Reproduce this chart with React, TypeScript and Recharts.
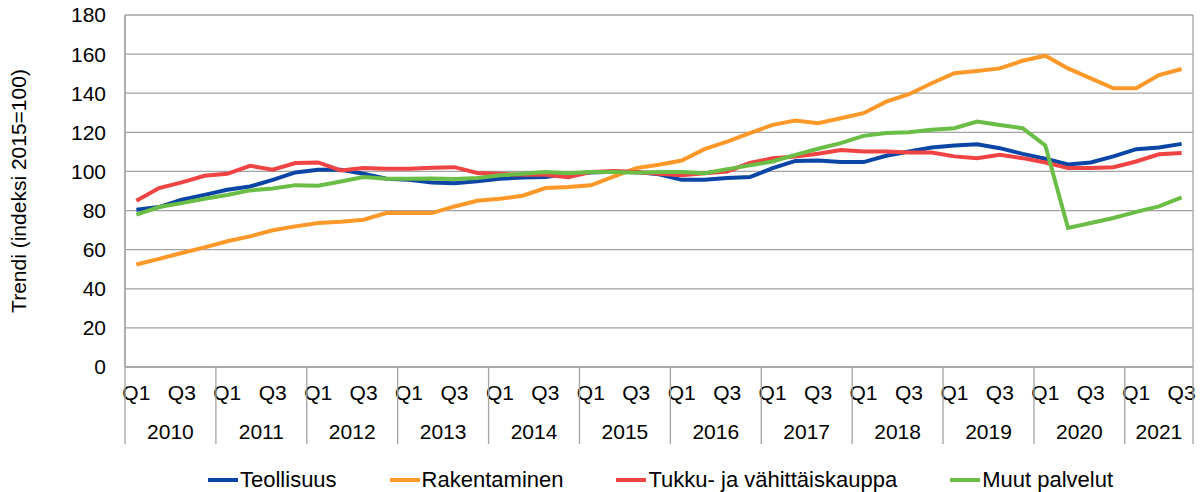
import React from "react";
import { LineChart, Line, XAxis, YAxis, CartesianGrid, Legend } from "recharts";

const years = [2010, 2011, 2012, 2013, 2014, 2015, 2016, 2017, 2018, 2019, 2020, 2021];
const quartersPerYear = [4, 4, 4, 4, 4, 4, 4, 4, 4, 4, 4, 3];
const yTicks = [0, 20, 40, 60, 80, 100, 120, 140, 160, 180];

const teollisuus = [
  80.4, 81.8, 85.5, 88, 90.6, 92.3, 95.7, 99.5, 100.9, 100.9, 98.8, 96.3, 95.7, 94.4, 94, 95,
  96.3, 96.9, 97.1, 98.8, 99.5, 99.8, 99.7, 98.5, 95.7, 95.7, 96.6, 97.1, 101.7, 105.4, 105.6,
  104.8, 104.8, 108, 110.2, 112.2, 113.3, 113.9, 111.9, 109, 106.5, 103.6, 104.6, 107.7, 111.4,
  112.2, 114.1,
];
const rakentaminen = [
  52.4, 55.3, 58.3, 61.2, 64.3, 66.8, 69.9, 71.9, 73.6, 74.3, 75.3, 78.7, 78.7, 78.7, 82.1, 85,
  86, 87.6, 91.5, 92, 92.9, 97.4, 101.7, 103.4, 105.6, 111.4, 115.3, 119.6, 123.8, 126, 124.7,
  127.2, 129.8, 135.7, 139.5, 145.1, 150.2, 151.4, 152.7, 156.6, 159.2, 152.7, 147.6, 142.5,
  142.5, 149.3, 152.4,
];
const kauppa = [
  85, 91.5, 94.4, 97.8, 98.8, 102.9, 100.9, 104.3, 104.6, 100.5, 101.7, 101.4, 101.4, 101.9,
  102.2, 99.2, 98.8, 98.3, 98.3, 97.1, 99.7, 100.2, 99.7, 98.8, 98, 99.1, 100, 104.3, 106.8,
  107.7, 109, 111, 110.2, 110.2, 109.7, 109.7, 107.7, 106.8, 108.5, 106.8, 104.6, 101.7, 101.7,
  102.2, 105.1, 108.8, 109.4,
];
const palvelut = [
  77.9, 81.8, 83.8, 86, 88, 90.3, 91.3, 93, 92.7, 94.9, 97.1, 96.3, 96.3, 96.4, 96.1, 96.6, 98,
  98.8, 99.7, 99.1, 99.7, 99.7, 99.3, 99.7, 99.7, 99.1, 101.2, 103.1, 105.1, 108.5, 111.6, 114.5,
  118.2, 119.6, 120.1, 121.3, 122.1, 125.5, 123.8, 122.1, 113.3, 71.1, 73.6, 76.2, 79.3, 82.1,
  86.7,
];

const series = [
  { key: "teollisuus", name: "Teollisuus", color: "#0b46a6", values: teollisuus },
  { key: "rakentaminen", name: "Rakentaminen", color: "#fd9829", values: rakentaminen },
  { key: "kauppa", name: "Tukku- ja vähittäiskauppa", color: "#f04343", values: kauppa },
  { key: "palvelut", name: "Muut palvelut", color: "#6abd45", values: palvelut },
];

const periods: { year: number; q: number; count: number }[] = [];
years.forEach((y, yi) => {
  for (let q = 1; q <= quartersPerYear[yi]; q++) periods.push({ year: y, q, count: quartersPerYear[yi] });
});

const data = periods.map((p, i) => {
  const row: any = { period: `${p.year} Q${p.q}`, year: p.year, q: p.q, count: p.count };
  series.forEach((s) => (row[s.key] = s.values[i]));
  return row;
});

const W = 1200;
const H = 492;
const FONT = '"Liberation Sans", Arial, sans-serif';
const GRID = "#a3a3a3";
const margin = { top: 15, right: 7, bottom: 45, left: 0 };
const Y_W = 125;
const X_H = 80;
const PLOT_BOTTOM = H - margin.bottom - X_H;
const SLOT = (W - margin.left - margin.right - Y_W) / data.length;

const QuarterTick = ({ x, index }: any) => {
  const row = data[index];
  if (!row) return null;
  const left = x - SLOT / 2;
  return (
    <g>
      {(row.q === 1 || row.q === 3) && (
        <text x={x} y={PLOT_BOTTOM + 33} textAnchor="middle" fontSize={21} fontFamily={FONT} fill="#000">
          Q{row.q}
        </text>
      )}
      {row.q === 1 && (
        <>
          <line x1={left} x2={left} y1={PLOT_BOTTOM} y2={PLOT_BOTTOM + 77} stroke={GRID} strokeWidth={1.3} />
          <text
            x={left + (row.count * SLOT) / 2}
            y={PLOT_BOTTOM + 72}
            textAnchor="middle"
            fontSize={21}
            fontFamily={FONT}
            fill="#000"
          >
            {row.year}
          </text>
        </>
      )}
      {index === data.length - 1 && (
        <line x1={x + SLOT / 2} x2={x + SLOT / 2} y1={PLOT_BOTTOM} y2={PLOT_BOTTOM + 77} stroke={GRID} strokeWidth={1.3} />
      )}
    </g>
  );
};

const LegendContent = () => (
  <div style={{ display: "flex", paddingLeft: 208, gap: 53, fontFamily: FONT, fontSize: 22, color: "#000" }}>
    {series.map((s) => (
      <div key={s.key} style={{ display: "flex", alignItems: "center" }}>
        <span style={{ display: "inline-block", width: 30, height: 4, background: s.color, marginRight: 2 }} />
        <span>{s.name}</span>
      </div>
    ))}
  </div>
);

export default function App() {
  return (
    <div style={{ position: "absolute", left: 0, top: 0, width: W, height: H, background: "#fff" }}>
      <LineChart width={W} height={H} data={data} margin={margin}>
        <CartesianGrid
          stroke={GRID}
          strokeWidth={1.3}
          verticalCoordinatesGenerator={({ offset }: any) => [offset.left, offset.left + offset.width]}
        />
        <XAxis
          dataKey="period"
          height={X_H}
          interval={0}
          padding={{ left: SLOT / 2, right: SLOT / 2 }}
          tickLine={false}
          axisLine={{ stroke: GRID, strokeWidth: 1.3 }}
          tick={(props: any) => <QuarterTick {...props} />}
        />
        <YAxis
          width={Y_W}
          domain={[0, 180]}
          ticks={yTicks}
          tickLine={false}
          axisLine={{ stroke: GRID, strokeWidth: 1.3 }}
          tickMargin={13}
          tick={{ fontSize: 21, fontFamily: FONT, fill: "#000" }}
          label={{
            content: ({ viewBox }: any) => (
              <text
                x={26}
                y={viewBox.y + viewBox.height / 2}
                transform={`rotate(-90, 26, ${viewBox.y + viewBox.height / 2})`}
                textAnchor="middle"
                fontSize={21}
                fontFamily={FONT}
                fill="#000"
              >
                Trendi (indeksi 2015=100)
              </text>
            ),
          }}
        />
        <Legend
          verticalAlign="middle"
          layout="horizontal"
          content={<LegendContent />}
          wrapperStyle={{ top: 467, left: 0, width: W }}
        />
        {series.map((s) => (
          <Line
            key={s.key}
            type="linear"
            dataKey={s.key}
            name={s.name}
            stroke={s.color}
            strokeWidth={4}
            dot={false}
            isAnimationActive={false}
          />
        ))}
      </LineChart>
    </div>
  );
}
